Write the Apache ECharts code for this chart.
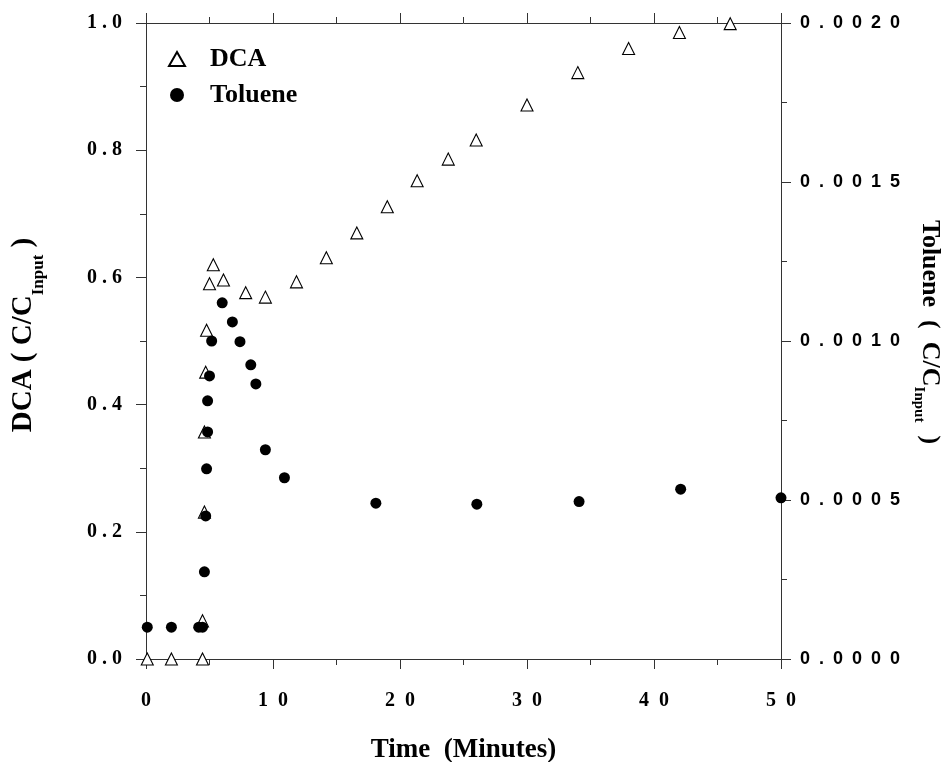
<!DOCTYPE html>
<html>
<head>
<meta charset="utf-8">
<script src="https://cdn.jsdelivr.net/npm/echarts@6/dist/echarts.min.js"></script>
<style>html,body{margin:0;padding:0;background:#fff}#c{width:942px;height:762px}</style>
</head>
<body>
<div id="c"></div>
<script>
// DCA (left axis, C/C_Input)
const dcaTime = [0.1, 2.0, 4.45, 4.45, 4.6, 4.6, 4.7, 4.77, 5.0, 5.3, 6.1, 7.85, 9.4, 11.85, 14.2, 16.6, 19.0, 21.35, 23.8, 26.0, 30.0, 34.0, 38.0, 42.0, 46.0];
const dcaValue = [0.0, 0.0, 0.0, 0.06, 0.231, 0.357, 0.451, 0.517, 0.59, 0.62, 0.596, 0.576, 0.569, 0.593, 0.631, 0.67, 0.711, 0.752, 0.786, 0.816, 0.871, 0.922, 0.96, 0.985, 0.999];
// Toluene (right axis, C/C_Input)
const tolTime = [0.1, 2.0, 4.15, 4.45, 4.6, 4.7, 4.77, 4.85, 4.85, 5.0, 5.17, 6.0, 6.8, 7.4, 8.25, 8.65, 9.4, 10.9, 18.1, 26.05, 34.1, 42.1, 50.0];
const tolValue = [0.0001, 0.0001, 0.0001, 0.0001, 0.000274, 0.00045, 0.000598, 0.000714, 0.000812, 0.00089, 0.001, 0.00112, 0.00106, 0.000998, 0.000925, 0.000865, 0.000658, 0.00057, 0.00049, 0.000487, 0.000495, 0.000534, 0.000507];
const seriesNames = ['DCA', 'Toluene'];
const xTitle = 'Time  (Minutes)';

const serif = '"Liberation Serif", "Times New Roman", serif';
const sans = '"Liberation Sans", Arial, sans-serif';
const spaced = (s, sp) => String(s).split('').join(sp);
const axisCol = '#333';

const tickCommon = () => ({
  axisLine: {show: true, onZero: false, lineStyle: {color: axisCol, width: 1}},
  axisTick: {show: true, inside: false, length: 10, lineStyle: {color: axisCol}},
  minorTick: {show: true, splitNumber: 2, length: 6, lineStyle: {color: axisCol}},
  splitLine: {show: false}
});

const chart = echarts.init(document.getElementById('c'), null, {renderer: 'canvas'});
chart.setOption({
  animation: false,
  backgroundColor: '#fff',
  grid: {left: 146, right: 161, top: 23, bottom: 103, containLabel: false, outerBoundsMode: 'none'},
  legend: {
    orient: 'vertical', left: 163, top: 41, itemWidth: 16, itemHeight: 14, itemGap: 10,
    data: seriesNames,
    textStyle: {fontFamily: serif, fontWeight: 'bold', fontSize: 26, color: '#000', padding: [0, 0, 0, 20]}
  },
  xAxis: [Object.assign({
    type: 'value', min: 0, max: 50, interval: 10, position: 'bottom',
    axisLabel: {margin: 32, fontFamily: serif, fontWeight: 'bold', fontSize: 20, color: '#000',
      formatter: v => spaced(v, '\u2002')},
    name: xTitle, nameLocation: 'middle', nameGap: 78,
    nameTextStyle: {fontFamily: serif, fontWeight: 'bold', fontSize: 27, color: '#000'}
  }, tickCommon()), Object.assign({
    type: 'value', min: 0, max: 50, interval: 10, position: 'top',
    axisLabel: {show: false}
  }, tickCommon())],
  yAxis: [Object.assign({
    type: 'value', min: 0, max: 1, interval: 0.2, position: 'left',
    axisLabel: {margin: 24, fontFamily: serif, fontWeight: 'bold', fontSize: 20, color: '#000',
      formatter: v => spaced(v.toFixed(1), '\u2005')},
    name: '{m|DCA ( C/C}{s|Input}{m| )}', nameLocation: 'middle', nameGap: 99, nameRotate: 90,
    nameTextStyle: {padding: [0, 0, 0, 12], rich: {
      m: {fontFamily: serif, fontWeight: 'bold', fontSize: 29, color: '#000'},
      s: {fontFamily: serif, fontWeight: 'bold', fontSize: 17, color: '#000', padding: [30, 0, 0, 0]}
    }}
  }, tickCommon()), Object.assign({
    type: 'value', min: 0, max: 0.002, interval: 0.0005, position: 'right',
    axisLabel: {margin: 19, fontFamily: sans, fontWeight: 'bold', fontSize: 18, color: '#000',
      formatter: v => spaced(v.toFixed(4), '\u2002')},
    name: '{m|Toluene  (  C/C}{s|Input}{m|  )}', nameLocation: 'middle', nameGap: 128, nameRotate: -90,
    nameTextStyle: {padding: [0, 18, 0, 0], rich: {
      m: {fontFamily: serif, fontWeight: 'bold', fontSize: 26, color: '#000'},
      s: {fontFamily: serif, fontWeight: 'bold', fontSize: 15, color: '#000', padding: [23, 0, 0, 0]}
    }}
  }, tickCommon())],
  series: [{
    name: seriesNames[0], type: 'scatter', xAxisIndex: 0, yAxisIndex: 0,
    symbol: 'triangle', symbolSize: 12,
    itemStyle: {color: '#fff', borderColor: '#000', borderWidth: 1.1, opacity: 1},
    data: dcaTime.map((t, i) => [t, dcaValue[i]]), z: 2
  }, {
    name: seriesNames[1], type: 'scatter', xAxisIndex: 0, yAxisIndex: 1,
    symbol: 'circle', symbolSize: 11,
    itemStyle: {color: '#000', opacity: 1},
    data: tolTime.map((t, i) => [t, tolValue[i]]), z: 3
  }]
});
</script>
</body>
</html>
